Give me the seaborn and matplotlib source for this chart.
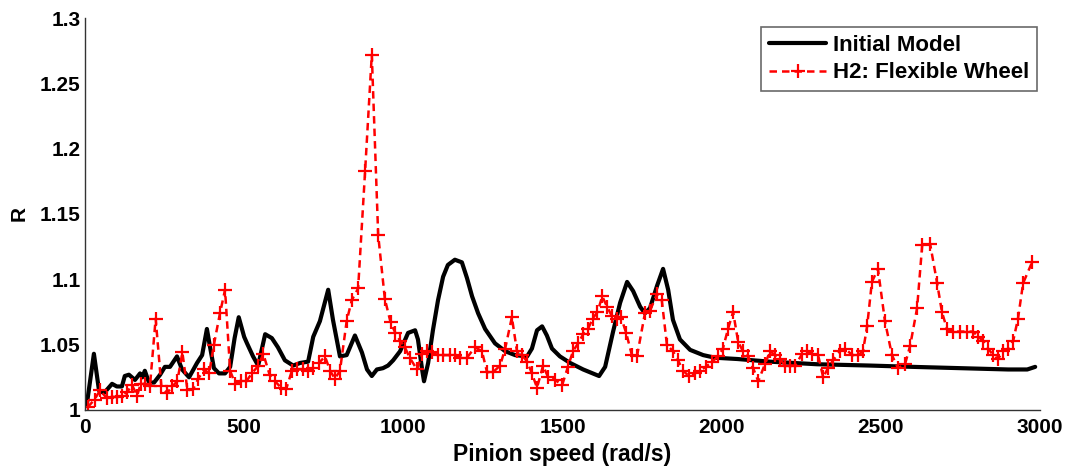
import numpy as np
import pandas as pd
import matplotlib
matplotlib.use("Agg")
import matplotlib.pyplot as plt
import seaborn as sns

# ------------------------------------------------------------------
# Data (pinion speed in rad/s vs R)
# ------------------------------------------------------------------
initial_speed = [5, 28, 44, 60, 85, 100, 116, 125, 138, 157, 173, 180, 188, 201, 217,
                 236, 251, 267, 289, 305, 327, 352, 368, 383, 393, 405, 421, 440, 456,
                 470, 483, 500, 509, 528, 544, 566, 587, 606, 628, 654, 676, 701, 717,
                 738, 764, 779, 801, 822, 848, 870, 886, 901, 917, 936, 952, 968, 990,
                 1015, 1037, 1046, 1059, 1065, 1078, 1093, 1109, 1125, 1140, 1162, 1184,
                 1200, 1216, 1235, 1257, 1288, 1320, 1351, 1389, 1404, 1420, 1436, 1451,
                 1467, 1492, 1524, 1565, 1615, 1634, 1659, 1681, 1703, 1722, 1744, 1759,
                 1775, 1797, 1816, 1832, 1847, 1869, 1901, 1942, 1979, 2050, 2150, 2300,
                 2466, 2600, 2750, 2900, 2960, 2985]
initial_r = [1.003, 1.043, 1.015, 1.013, 1.020, 1.018, 1.018, 1.026, 1.027, 1.023, 1.028,
             1.025, 1.030, 1.021, 1.021, 1.027, 1.033, 1.033, 1.041, 1.031, 1.025, 1.036,
             1.042, 1.062, 1.048, 1.032, 1.028, 1.028, 1.033, 1.055, 1.071, 1.056, 1.051,
             1.041, 1.034, 1.058, 1.055, 1.048, 1.038, 1.034, 1.036, 1.037, 1.056, 1.068,
             1.092, 1.069, 1.041, 1.042, 1.057, 1.044, 1.031, 1.026, 1.031, 1.032, 1.034,
             1.038, 1.045, 1.059, 1.061, 1.054, 1.031, 1.022, 1.036, 1.061, 1.084, 1.102,
             1.111, 1.115, 1.113, 1.101, 1.087, 1.074, 1.062, 1.051, 1.045, 1.042, 1.041,
             1.047, 1.061, 1.064, 1.057, 1.047, 1.041, 1.036, 1.031, 1.026, 1.033, 1.060,
             1.082, 1.098, 1.091, 1.079, 1.074, 1.078, 1.095, 1.108, 1.092, 1.069, 1.054,
             1.046, 1.042, 1.040, 1.039, 1.037, 1.035, 1.034, 1.033, 1.032, 1.031, 1.031,
             1.033]

flex_speed = [8, 30, 47, 69, 85, 100, 116, 133, 148, 164, 175, 189, 204, 222, 240, 258,
              274, 290, 306, 322, 340, 356, 374, 390, 405, 424, 440, 456, 472, 490, 507,
              524, 545, 560, 580, 597, 616, 632, 650, 666, 684, 700, 716, 735, 754, 770,
              785, 801, 822, 838, 858, 880, 901, 921, 942, 960, 975, 990, 1005, 1020,
              1043, 1059, 1074, 1090, 1109, 1125, 1147, 1162, 1178, 1200, 1225, 1247,
              1263, 1282, 1304, 1320, 1341, 1357, 1373, 1389, 1404, 1420, 1439, 1455,
              1477, 1499, 1517, 1533, 1549, 1565, 1580, 1595, 1610, 1625, 1640, 1655,
              1670, 1684, 1700, 1718, 1734, 1759, 1775, 1797, 1812, 1828, 1847, 1863,
              1879, 1897, 1915, 1932, 1950, 1970, 1989, 2004, 2020, 2036, 2052, 2067,
              2083, 2099, 2115, 2136, 2152, 2168, 2184, 2199, 2215, 2231, 2253, 2268,
              2284, 2303, 2319, 2334, 2350, 2372, 2388, 2410, 2429, 2444, 2457, 2472,
              2491, 2513, 2535, 2554, 2576, 2592, 2614, 2630, 2655, 2677, 2692, 2708,
              2727, 2749, 2771, 2790, 2806, 2821, 2837, 2853, 2868, 2884, 2900, 2916,
              2931, 2947, 2975]
flex_r = [1.002, 1.008, 1.015, 1.009, 1.010, 1.010, 1.011, 1.014, 1.019, 1.011, 1.020,
          1.020, 1.018, 1.070, 1.018, 1.013, 1.018, 1.022, 1.044, 1.015, 1.016, 1.024,
          1.031, 1.028, 1.050, 1.074, 1.092, 1.030, 1.020, 1.022, 1.022, 1.028, 1.034,
          1.043, 1.027, 1.022, 1.017, 1.016, 1.030, 1.031, 1.031, 1.030, 1.032, 1.036,
          1.041, 1.030, 1.024, 1.030, 1.068, 1.084, 1.093, 1.183, 1.272, 1.134, 1.085,
          1.067, 1.059, 1.053, 1.048, 1.040, 1.031, 1.043, 1.045, 1.044, 1.042, 1.042,
          1.042, 1.042, 1.040, 1.040, 1.048, 1.045, 1.029, 1.029, 1.034, 1.047, 1.071,
          1.045, 1.042, 1.037, 1.028, 1.017, 1.034, 1.025, 1.023, 1.019, 1.033, 1.045,
          1.051, 1.058, 1.062, 1.070, 1.075, 1.087, 1.079, 1.072, 1.070, 1.071, 1.059,
          1.042, 1.041, 1.074, 1.076, 1.089, 1.084, 1.050, 1.045, 1.038, 1.030, 1.026,
          1.028, 1.030, 1.033, 1.037, 1.041, 1.047, 1.062, 1.075, 1.052, 1.045, 1.041,
          1.032, 1.022, 1.035, 1.045, 1.042, 1.039, 1.034, 1.034, 1.034, 1.043, 1.045,
          1.043, 1.042, 1.025, 1.032, 1.038, 1.045, 1.047, 1.042, 1.042, 1.045, 1.064,
          1.098, 1.108, 1.068, 1.042, 1.032, 1.035, 1.049, 1.078, 1.126, 1.127, 1.097,
          1.075, 1.062, 1.060, 1.060, 1.060, 1.060, 1.056, 1.053, 1.047, 1.042, 1.039,
          1.045, 1.047, 1.053, 1.070, 1.097, 1.113]

x_ticks = [0, 500, 1000, 1500, 2000, 2500, 3000]
y_ticks = [1.0, 1.05, 1.1, 1.15, 1.2, 1.25, 1.3]
y_tick_labels = ["1", "1.05", "1.1", "1.15", "1.2", "1.25", "1.3"]

# ------------------------------------------------------------------
# Plot
# ------------------------------------------------------------------
sns.set_style("white")
plt.rcParams["font.family"] = ["Liberation Sans", "DejaVu Sans"]
plt.rcParams["font.weight"] = "bold"
plt.rcParams["text.color"] = "black"
plt.rcParams["axes.labelcolor"] = "black"
plt.rcParams["xtick.color"] = "black"
plt.rcParams["ytick.color"] = "black"

fig = plt.figure(figsize=(10.65, 4.7), dpi=100)
ax = fig.add_axes([0.0798, 0.1277, 0.8967, 0.834])

sns.lineplot(x=initial_speed, y=initial_r, ax=ax, color="black", linewidth=3,
             sort=False, label="Initial Model")
sns.lineplot(x=flex_speed, y=flex_r, ax=ax, color="red", linewidth=1.8,
             linestyle=(0, (3, 2)), marker="+", markersize=10, markeredgewidth=1.6,
             markeredgecolor="red", sort=False, label="H2: Flexible Wheel")

ax.set_xlim(0, 3000)
ax.set_ylim(1.0, 1.3)
ax.set_xticks(x_ticks)
ax.set_yticks(y_ticks)
ax.set_yticklabels(y_tick_labels)
ax.tick_params(direction="in", length=5, width=1, labelsize=15, pad=3)
ax.tick_params(axis="x", pad=6)
for lbl in ax.get_xticklabels() + ax.get_yticklabels():
    lbl.set_fontweight("bold")

ax.set_xlabel("Pinion speed (rad/s)", fontsize=16.5, fontweight="bold", labelpad=4)
ax.set_ylabel("R", fontsize=15, fontweight="bold", labelpad=8)

sns.despine(ax=ax)
for side in ["left", "bottom"]:
    ax.spines[side].set_color("#333333")
    ax.spines[side].set_linewidth(1)

leg = ax.legend(loc="upper right", fontsize=16, frameon=True, fancybox=False,
                handlelength=2.6, handletextpad=0.3, borderpad=0.35,
                labelspacing=0.3, borderaxespad=0, bbox_to_anchor=(0.997, 0.977))
leg.get_frame().set_edgecolor("#444444")
leg.get_frame().set_linewidth(1.2)
for t in leg.get_texts():
    t.set_fontweight("bold")

fig.savefig("out.png", dpi=100)
